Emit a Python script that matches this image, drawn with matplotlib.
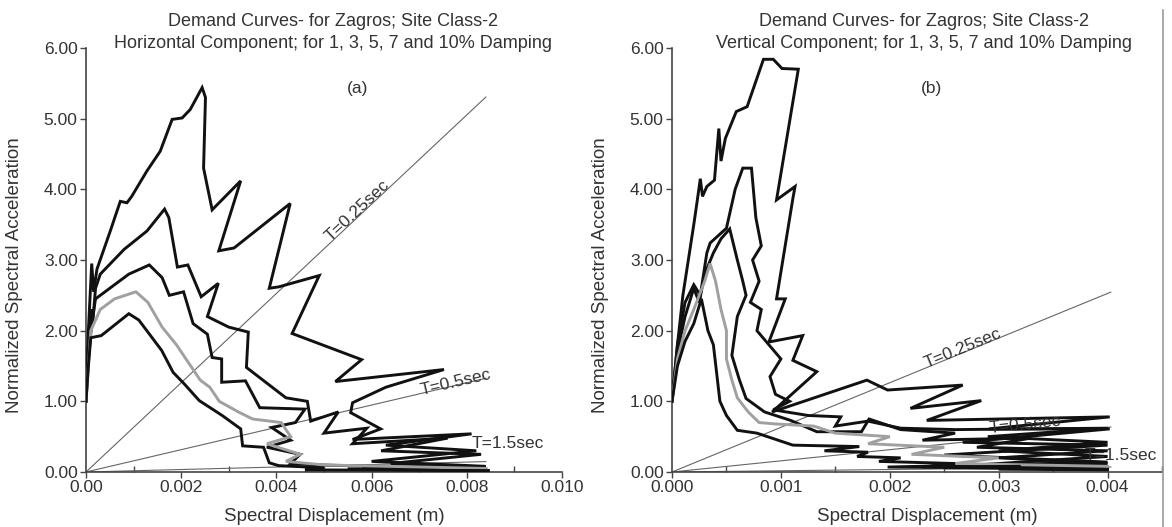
import numpy as np
import matplotlib.pyplot as plt
from matplotlib.lines import Line2D
from matplotlib.ticker import FixedLocator, MultipleLocator

plt.rcParams['font.family'] = ['Liberation Sans', 'DejaVu Sans']
plt.rcParams['text.color'] = '#333333'
plt.rcParams['axes.labelcolor'] = '#333333'
plt.rcParams['xtick.color'] = '#333333'
plt.rcParams['ytick.color'] = '#333333'

# --- horizontal component (Sd in mm, Sa normalized) ---
h1_sd = [0, 0.05, 0.12, 0.16, 0.23, 0.51, 0.72, 0.86, 0.96, 1.28, 1.56, 1.81, 2.02, 2.19, 2.44, 2.51, 2.47,
         2.65, 3.25, 2.79, 3.11, 4.29, 3.85, 4.05, 4.90, 4.33, 5.79, 5.24, 7.52, 6.30, 5.60, 5.56, 6.19, 5.60,
         8.10, 6.30, 8.20, 6.00, 8.40, 5.80, 8.45]
h1_sa = [1.0, 2.0, 2.95, 2.55, 2.87, 3.41, 3.83, 3.81, 3.90, 4.26, 4.54, 4.99, 5.01, 5.13, 5.44, 5.30, 4.30,
         3.71, 4.12, 3.13, 3.17, 3.80, 2.60, 2.62, 2.78, 1.96, 1.59, 1.28, 1.45, 1.20, 0.98, 0.84, 0.61, 0.46,
         0.54, 0.38, 0.30, 0.15, 0.08, 0.05, 0.02]
h2_sd = [0, 0.04, 0.10, 0.14, 0.20, 0.30, 0.80, 1.28, 1.65, 1.74, 1.92, 2.14, 2.42, 2.78, 2.55, 3.00, 3.41,
         3.37, 4.20, 4.65, 4.72, 5.30, 5.00, 5.90, 5.60, 7.60, 6.20, 8.30, 6.40, 8.40, 5.50, 8.45]
h2_sa = [1.0, 1.7, 2.3, 2.1, 2.6, 2.8, 3.15, 3.41, 3.72, 3.60, 2.90, 2.93, 2.48, 2.67, 2.20, 2.05, 1.98,
         1.48, 1.05, 1.00, 0.72, 0.85, 0.55, 0.62, 0.40, 0.48, 0.30, 0.25, 0.12, 0.06, 0.04, 0.02]
h3_sd = [0, 0.05, 0.12, 0.20, 0.50, 0.90, 1.33, 1.60, 1.75, 2.05, 2.25, 2.55, 2.65, 2.85, 2.85, 3.35, 3.65,
         4.60, 4.40, 3.90, 4.30, 3.80, 4.50, 4.30, 4.90, 8.40]
h3_sa = [1.0, 1.6, 2.1, 2.45, 2.6, 2.8, 2.93, 2.75, 2.50, 2.55, 2.10, 1.95, 1.62, 1.60, 1.27, 1.29, 0.91,
         0.89, 0.70, 0.63, 0.45, 0.35, 0.25, 0.12, 0.10, 0.04]
h4_sd = [0, 0.10, 0.30, 0.60, 1.05, 1.30, 1.60, 1.90, 2.10, 2.40, 2.60, 2.80, 3.20, 3.50, 4.10, 4.30, 3.80,
         4.50, 4.20, 5.00, 8.40]
h4_sa = [1.0, 2.0, 2.3, 2.45, 2.55, 2.40, 2.05, 1.80, 1.60, 1.30, 1.20, 1.00, 0.85, 0.75, 0.70, 0.50, 0.40,
         0.25, 0.15, 0.10, 0.05]
h5_sd = [0, 0.05, 0.10, 0.32, 0.90, 1.11, 1.59, 1.83, 2.06, 2.38, 2.54, 2.86, 3.25, 3.29, 3.73, 3.85, 4.05,
         5.00, 4.60, 8.40]
h5_sa = [1.0, 1.5, 1.9, 1.93, 2.24, 2.15, 1.72, 1.41, 1.25, 1.01, 0.94, 0.80, 0.61, 0.37, 0.35, 0.13, 0.09,
         0.06, 0.03, 0.02]

# --- vertical component ---
v1_sd = [0, 0.05, 0.10, 0.15, 0.20, 0.23, 0.26, 0.28, 0.32, 0.39, 0.43, 0.45, 0.49, 0.59, 0.69, 0.84, 0.93,
         1.01, 1.16, 0.96, 1.13, 1.11, 0.96, 1.04, 0.89, 1.20, 1.11, 1.33, 0.92, 1.79, 1.98, 2.67, 2.19, 2.84,
         2.34, 4.02, 2.91, 4.02, 2.67, 4.00, 2.50, 4.00, 1.98, 4.00]
v1_sa = [1.0, 1.8, 2.5, 3.0, 3.5, 3.82, 4.15, 3.90, 4.04, 4.13, 4.86, 4.40, 4.72, 5.10, 5.17, 5.84, 5.84,
         5.71, 5.70, 3.85, 4.04, 3.87, 2.45, 2.45, 1.84, 1.93, 1.58, 1.42, 0.85, 1.30, 1.16, 1.23, 0.90, 1.01,
         0.73, 0.78, 0.61, 0.61, 0.42, 0.38, 0.24, 0.14, 0.07, 0.05]
v2_sd = [0, 0.05, 0.12, 0.20, 0.26, 0.32, 0.35, 0.50, 0.58, 0.65, 0.73, 0.77, 0.82, 0.74, 0.80, 0.72, 0.82,
         0.78, 1.00, 0.90, 0.95, 1.08, 0.93, 1.25, 1.55, 1.50, 1.80, 2.10, 2.60, 4.00, 2.90, 4.00, 3.00, 4.00,
         2.80, 4.00]
v2_sa = [1.0, 1.8, 2.4, 2.65, 2.5, 3.1, 3.24, 3.45, 4.0, 4.3, 4.3, 3.6, 3.2, 3.0, 2.7, 2.4, 2.3, 2.0, 1.6,
         1.35, 1.1, 1.0, 0.88, 0.80, 0.78, 0.65, 0.72, 0.62, 0.60, 0.62, 0.50, 0.42, 0.30, 0.22, 0.10, 0.06]
v3_sd = [0, 0.05, 0.12, 0.20, 0.25, 0.30, 0.38, 0.45, 0.53, 0.60, 0.65, 0.68, 0.60, 0.55, 0.62, 0.68, 0.85,
         1.09, 1.33, 1.74, 1.81, 2.10, 2.60, 2.30, 3.30, 2.80, 4.00, 3.00, 4.00, 2.50, 4.00]
v3_sa = [1.0, 1.7, 2.2, 2.6, 2.4, 2.8, 3.1, 3.3, 3.44, 3.0, 2.7, 2.5, 2.2, 1.65, 1.3, 1.04, 0.85, 0.73,
         0.57, 0.57, 0.75, 0.60, 0.55, 0.45, 0.48, 0.35, 0.30, 0.20, 0.12, 0.06, 0.04]
v4_sd = [0, 0.05, 0.12, 0.20, 0.30, 0.35, 0.40, 0.45, 0.50, 0.50, 0.55, 0.60, 0.70, 0.80, 0.95, 1.30, 1.50,
         2.00, 1.80, 2.50, 2.20, 3.00, 2.60, 4.00]
v4_sa = [1.0, 1.6, 2.0, 2.3, 2.7, 2.95, 2.7, 2.3, 2.0, 1.6, 1.3, 1.05, 0.85, 0.70, 0.68, 0.65, 0.55, 0.50,
         0.40, 0.35, 0.25, 0.20, 0.12, 0.08]
v5_sd = [0, 0.05, 0.12, 0.20, 0.27, 0.33, 0.38, 0.41, 0.44, 0.50, 0.60, 0.78, 1.11, 1.72, 1.40, 1.80, 1.70,
         2.10, 1.90, 2.60, 2.30, 3.20, 3.00, 4.00]
v5_sa = [1.0, 1.5, 1.85, 2.1, 2.45, 2.0, 1.8, 1.4, 1.0, 0.80, 0.59, 0.55, 0.38, 0.36, 0.30, 0.28, 0.22,
         0.20, 0.15, 0.12, 0.07, 0.08, 0.04, 0.03]

# constant period lines
periods = [0.25, 0.5, 1.5]
period_labels = ["T=0.25sec", "T=0.5sec", "T=1.5sec"]
h_period_end = 8.4   # mm
v_period_end = 4.03  # mm

h_xticks = [0, 0.002, 0.004, 0.006, 0.008, 0.010]
h_xticklabels = ["0.00", "0.002", "0.004", "0.006", "0.008", "0.010"]
v_xticks = [0, 0.001, 0.002, 0.003, 0.004]
v_xticklabels = ["0.000", "0.001", "0.002", "0.003", "0.004"]
yticks = [0, 1, 2, 3, 4, 5, 6]
yticklabels = ["0.00", "1.00", "2.00", "3.00", "4.00", "5.00", "6.00"]

title_top = "Demand Curves- for Zagros; Site Class-2"
h_title = "Horizontal Component; for 1, 3, 5, 7 and 10% Damping"
v_title = "Vertical Component; for 1, 3, 5, 7 and 10% Damping"

W, H = 1172, 527
fig = plt.figure(figsize=(W / 100, H / 100), dpi=100)
fig.patch.set_facecolor('white')

ax_h = fig.add_axes([86 / W, 1 - 472 / H, 476 / W, 424 / H])
ax_v = fig.add_axes([672 / W, 1 - 472 / H, 490 / W, 424 / H])


def draw_panel(ax, curves, xlim, xticks, xticklabels, minor, t_end, t_lab):
    ax.set_xlim(*xlim)
    ax.set_ylim(0, 6)
    for sd, sa, col in curves:
        ax.plot(np.array(sd) / 1000, sa, color=col, lw=2.1, solid_joinstyle='miter', zorder=3)
    for T in periods:
        w2 = (2 * np.pi / T) ** 2
        ax.plot([0, t_end / 1000], [0, w2 * t_end / 1000], color='#666666', lw=0.8, zorder=2)
    for (txt, sd_mm, dy, horiz) in t_lab:
        T = periods[period_labels.index(txt)]
        w2 = (2 * np.pi / T) ** 2
        x = sd_mm / 1000
        if horiz:
            ax.text(x, dy, txt, fontsize=12.5, ha='left', va='center', zorder=4)
        else:
            p0 = ax.transData.transform((0, 0))
            p1 = ax.transData.transform((x, w2 * x))
            ang = np.degrees(np.arctan2(p1[1] - p0[1], p1[0] - p0[0]))
            ax.text(x, w2 * x + dy, txt, fontsize=12.5, ha='center', va='bottom', rotation=ang,
                    rotation_mode='anchor', zorder=4)
    ax.xaxis.set_major_locator(FixedLocator(xticks))
    ax.set_xticklabels(xticklabels)
    ax.xaxis.set_minor_locator(MultipleLocator(minor))
    ax.yaxis.set_major_locator(FixedLocator(yticks))
    ax.set_yticklabels(yticklabels)
    for s in ['top', 'right']:
        ax.spines[s].set_visible(False)
    for s in ['left', 'bottom']:
        ax.spines[s].set_color('#444444')
        ax.spines[s].set_linewidth(1.2)
    ax.tick_params(axis='both', which='major', labelsize=12.5, length=4, width=1, pad=2, color='#444444')
    ax.tick_params(axis='x', which='minor', direction='in', length=4, width=1, color='#444444')
    ax.set_xlabel("Spectral Displacement (m)", fontsize=13.5)
    ax.set_ylabel("Normalized Spectral Acceleration", fontsize=13.5)
    ax.xaxis.set_label_coords(0.522, -0.085)


black = '#111111'
grey = '#a0a0a0'
draw_panel(ax_h,
           [(h1_sd, h1_sa, black), (h2_sd, h2_sa, black), (h3_sd, h3_sa, black),
            (h4_sd, h4_sa, grey), (h5_sd, h5_sa, black)],
           (0, 0.010), h_xticks, h_xticklabels, 0.001, h_period_end,
           [("T=0.25sec", 5.8, -0.05, False), ("T=0.5sec", 7.8, -0.06, False), ("T=1.5sec", 8.1, 0.40, True)])
ax_h.yaxis.set_label_coords(-0.132, 0.465)

draw_panel(ax_v,
           [(v1_sd, v1_sa, black), (v2_sd, v2_sa, black), (v3_sd, v3_sa, black),
            (v4_sd, v4_sa, grey), (v5_sd, v5_sa, black)],
           (0, 0.0045), v_xticks, v_xticklabels, 0.0005, v_period_end,
           [("T=0.25sec", 2.7, -0.05, False), ("T=0.5sec", 3.25, 0.05, False), ("T=1.5sec", 3.79, 0.24, True)])
ax_v.yaxis.set_label_coords(-0.129, 0.465)

fig.text(333 / W, 1 - 22 / H, title_top, fontsize=13, ha='center', va='center')
fig.text(333 / W, 1 - 43 / H, h_title, fontsize=13, ha='center', va='center')
fig.text(924 / W, 1 - 22 / H, title_top, fontsize=13, ha='center', va='center')
fig.text(924 / W, 1 - 43 / H, v_title, fontsize=13, ha='center', va='center')
fig.text(358 / W, 1 - 88 / H, "(a)", fontsize=12.5, ha='center', va='center')
fig.text(932 / W, 1 - 88 / H, "(b)", fontsize=12.5, ha='center', va='center')

fig.add_artist(Line2D([1163 / W, 1163 / W], [0, 1 - 10 / H], color='#999999', lw=1.2))

fig.savefig('out.png', dpi=100, facecolor='white')
